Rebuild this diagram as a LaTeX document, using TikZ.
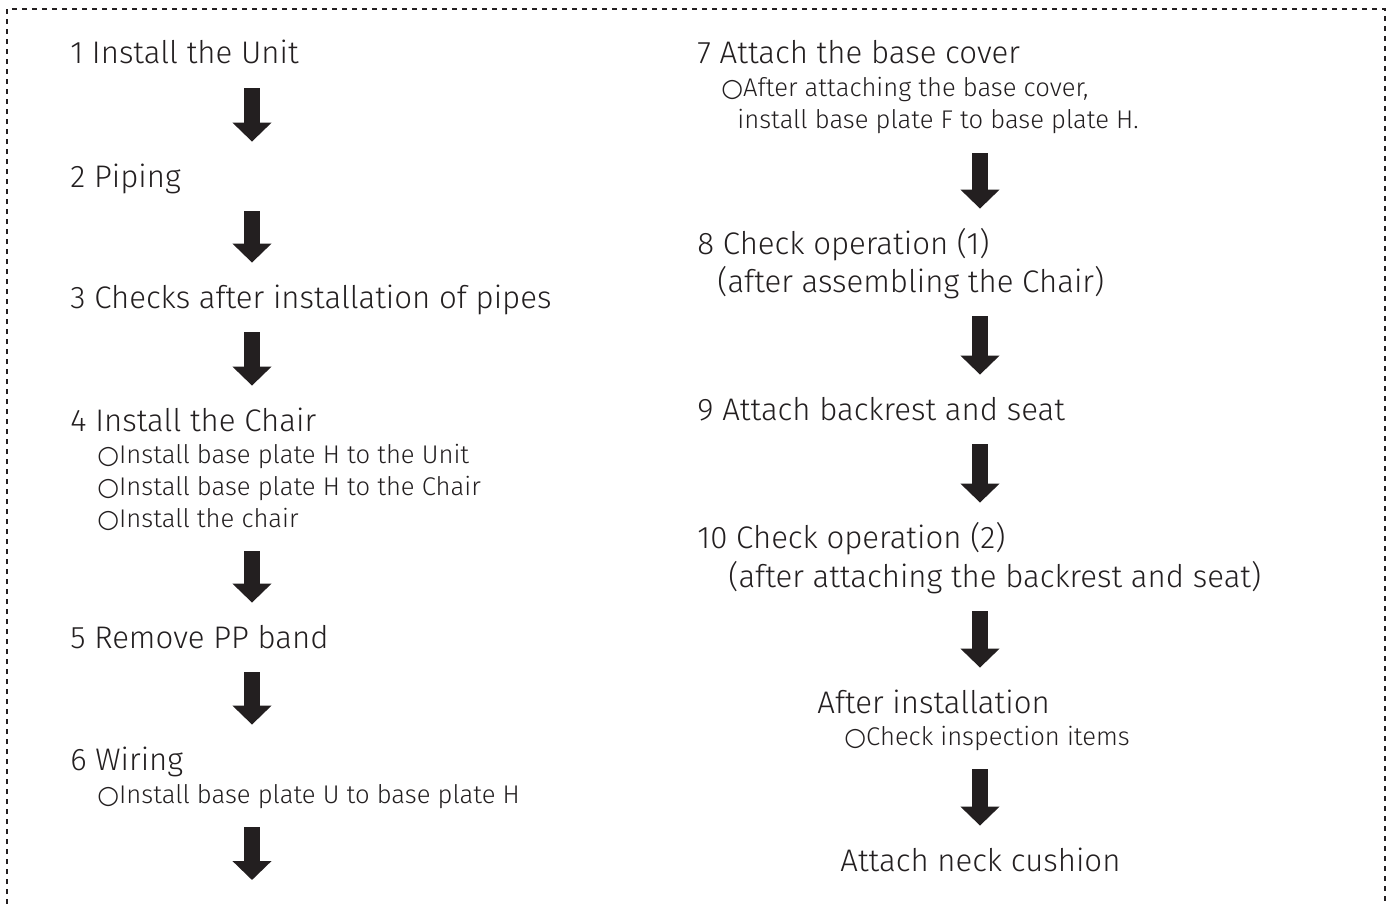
\documentclass[tikz,border=0pt]{standalone}
\usepackage{fontspec}
\setmainfont{Fira Sans Light}
\newfontfamily\symfont{DejaVu Sans}
\usetikzlibrary{arrows.meta}
\definecolor{ink}{HTML}{231F20}
\newcommand\bul{{\symfont\fontsize{12.5}{14}\selectfont ○}}
\tikzset{
  headnode/.style={anchor=base west, inner sep=0pt, text=ink,
    font=\fontsize{15.6}{18}\selectfont, text height=10.5pt, text depth=3pt},
  subnode/.style={anchor=base west, inner sep=0pt, text=ink,
    font=\fontsize{12.8}{15}\selectfont, text depth=3pt},
  flow/.style={draw=ink, line width=8pt, -{Triangle[width=19pt,length=9.5pt]},
    shorten <=9pt, shorten >=12pt},
  border/.style={draw=ink, line width=0.75pt, dash pattern=on 2.5pt off 2.5pt}
}
\begin{document}
\begin{tikzpicture}[x=0.5pt, y=-0.5pt]
    \useasboundingbox (0,0) rectangle (1392,904);
    \draw[border] (7,904) |- (1385,9) -- (1385,904);
    \coordinate (ax) at (252,0);
    \coordinate (bx) at (980,0);
    % left column
    \node[headnode] (s1) at (70,64) {1 Install the Unit};
    \node[headnode] (s2) at (70,187) {2 Piping};
    \node[headnode] (s3) at (70,308) {3 Checks after installation of pipes};
    \node[headnode] (s4) at (70,431) {4 Install the Chair};
    \node[subnode] (s4a) at (97,463) {\bul Install base plate H to the Unit};
    \node[subnode] (s4b) at (97,495) {\bul Install base plate H to the Chair};
    \node[subnode] (s4c) at (97,527) {\bul Install the chair};
    \node[headnode] (s5) at (70,648) {5 Remove PP band};
    \node[headnode] (s6) at (70,770) {6 Wiring};
    \node[subnode] (s6a) at (97,803) {\bul Install base plate U to base plate H};
    \coordinate (s6end) at (252,904);
    % right column
    \node[headnode] (s7) at (697,64) {7 Attach the base cover};
    \node[subnode] (s7a) at (721,97) {\bul After attaching the base cover,};
    \node[subnode] (s7b) at (737,129) {install base plate F to base plate H.};
    \node[headnode] (s8) at (697,254) {8 Check operation (1)};
    \node[headnode] (s8a) at (717,292) {(after assembling the Chair)};
    \node[headnode] (s9) at (697,420) {9 Attach backrest and seat};
    \node[headnode] (s10) at (697,548) {10 Check operation (2)};
    \node[headnode] (s10a) at (728,587) {(after attaching the backrest and seat)};
    \node[headnode] (after) at (817,713) {After installation};
    \node[subnode] (aftera) at (844,745) {\bul Check inspection items};
    \node[headnode] (neck) at (840,871) {Attach neck cushion};
    % arrows
    \draw[flow] (s1.south -| ax) -- (s2.north -| ax);
    \draw[flow] (s2.south -| ax) -- (s3.north -| ax);
    \draw[flow] (s3.south -| ax) -- (s4.north -| ax);
    \draw[flow] (s4c.south -| ax) -- (s5.north -| ax);
    \draw[flow] (s5.south -| ax) -- (s6.north -| ax);
    \draw[flow] (s6a.south -| ax) -- (s6end);
    \draw[flow] (s7b.south -| bx) -- (s8.north -| bx);
    \draw[flow] (s8a.south -| bx) -- (s9.north -| bx);
    \draw[flow] (s9.south -| bx) -- (s10.north -| bx);
    \draw[flow] (s10a.south -| bx) -- (after.north -| bx);
    \draw[flow] (aftera.south -| bx) -- (neck.north -| bx);
\end{tikzpicture}
\end{document}
